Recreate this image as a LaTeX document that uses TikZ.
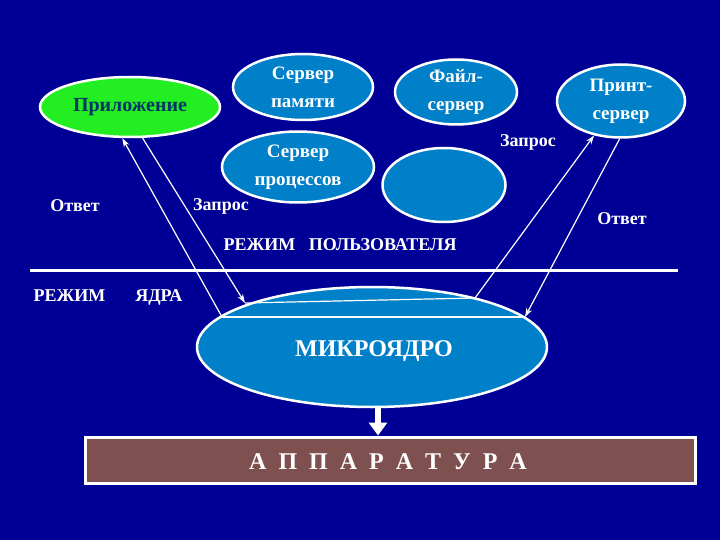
\documentclass[tikz,border=0pt]{standalone}
\usepackage{fontspec}
\setmainfont{Liberation Serif}
\usepackage{tikz}
\usetikzlibrary{arrows.meta,shapes.geometric}

\definecolor{bgblue}{RGB}{0,0,150}
\definecolor{srvblue}{RGB}{0,128,200}
\definecolor{appgreen}{RGB}{34,238,34}
\definecolor{apptext}{RGB}{0,51,102}
\definecolor{hwbrown}{RGB}{127,80,80}

\tikzset{
  server/.style={ellipse, draw=white, line width=2.5pt, fill=srvblue,
    inner sep=0pt, text=white, font=\bfseries\fontsize{19}{28}\selectfont,
    align=center},
  label/.style={text=white, font=\bfseries\fontsize{18}{20}\selectfont},
  msg/.style={white, line width=1.2pt, -{Stealth[length=9pt,width=6pt]}}
}

\begin{document}
\begin{tikzpicture}[x=1pt,y=-1pt]
\fill[bgblue] (0,0) rectangle (720,540);
\useasboundingbox (0,0) rectangle (720,540);

% user mode
\node[server, fill=appgreen, text=apptext, minimum width=180pt, minimum height=60pt,
  font=\bfseries\fontsize{20}{22}\selectfont] (app) at (130,107) {Приложение};
\node[server, minimum width=140pt, minimum height=66pt] (mem) at (303,87) {Сервер\\памяти};
\node[server, minimum width=122pt, minimum height=65pt] (file) at (456,92) {Файл-\\сервер};
\node[server, minimum width=128pt, minimum height=73pt] (print) at (621,101) {Принт-\\сервер};
\node[server, minimum width=152pt, minimum height=71pt] (proc) at (298,167) {Сервер\\процессов};
\node[server, minimum width=123pt, minimum height=74pt] (empty) at (444,185) {};

% border between modes
\draw[white, line width=3pt] (30,270) -- (678,270);

% kernel
\node[server, minimum width=350pt, minimum height=120pt] (kern) at (372,347) {};
\node[text=white, font=\bfseries\fontsize{24}{26}\selectfont] (kerntxt) at (374,351) {МИКРОЯДРО};

% hardware
\node[draw=white, line width=3pt, fill=hwbrown, minimum width=610pt, minimum height=46pt,
  text=white, font=\bfseries\fontsize{24}{26}\selectfont] (hw) at (390,460) {};
\node[text=white, font=\bfseries\fontsize{24}{26}\selectfont] (hwtxt) at (388,462)
  {А\hspace{12pt}П\hspace{12pt}П\hspace{12pt}А\hspace{12pt}Р\hspace{12pt}А\hspace{12pt}Т\hspace{12pt}У\hspace{12pt}Р\hspace{12pt}А};

% points on the kernel
\coordinate (kin) at (245,303);
\coordinate (kout) at (475,298);
\coordinate (kback) at (525,317);
\coordinate (kret) at (222,317);

% request and answer
\draw[msg] (app.-68) -- (kin);
\draw[white, line width=1.2pt] (kin) -- (kout);
\draw[msg] (kout) -- (print.-128);
\draw[msg] (print.-92) -- (kback);
\draw[white, line width=1.2pt] (kback) -- (kret);
\draw[msg] (kret) -- (app.-104);

\draw[white, line width=6pt, -{Triangle[length=13pt,width=18pt]}] (kern.south) ++(6,0) coordinate (kbot) -- (kbot |- hw.north);

\node[label] (ans1) at (75,206) {Ответ};
\node[label] (req1) at (221,206) {Запрос};
\node[label] (req2) at (528,142) {Запрос};
\node[label] (ans2) at (622,219) {Ответ};
\node[label] (user) at (340,245) {РЕЖИМ\ \ \ ПОЛЬЗОВАТЕЛЯ};
\node[label] (kmode) at (108,297) {РЕЖИМ\hspace{30pt}ЯДРА};
\end{tikzpicture}
\end{document}
